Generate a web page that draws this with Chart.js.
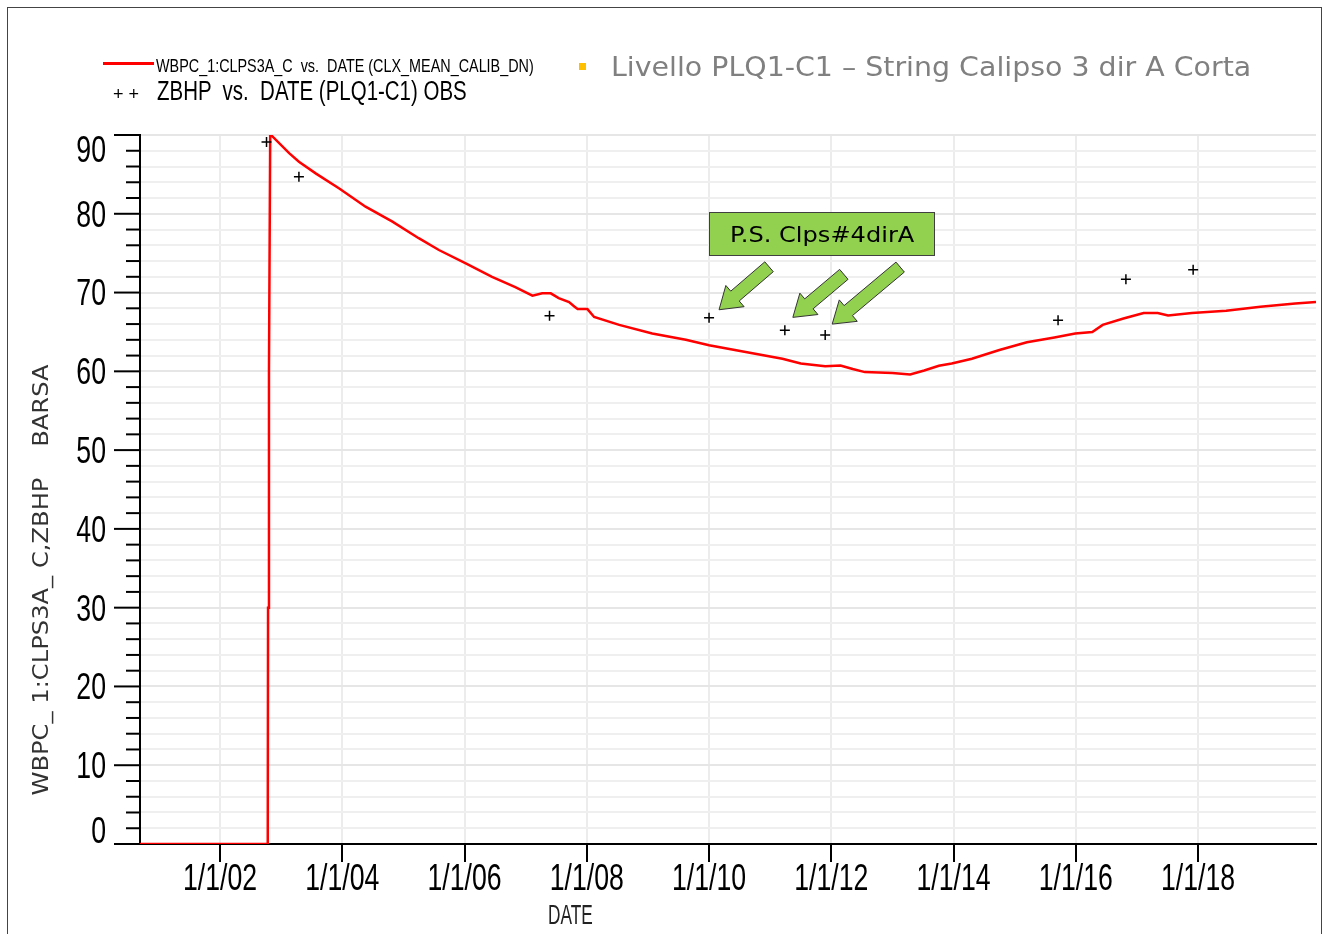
<!DOCTYPE html>
<html>
<head>
<meta charset="utf-8">
<script src="https://cdn.jsdelivr.net/npm/chart.js@4/dist/chart.umd.min.js"></script>
<style>
  body { margin: 0; background: #fff; }
  #wrap { position: relative; width: 1328px; height: 934px; overflow: hidden; }
  #plot { position: absolute; left: 0; top: 0; width: 1328px; height: 934px; }
  .frame { position: absolute; left: 7px; top: 7px; width: 1313px; height: 960px; border: 1px solid #444; }
  .txt { position: absolute; line-height: 1; white-space: pre; color: #000; transform-origin: left center; }
  .arial { font-family: 'Liberation Sans', Arial, sans-serif; }
  #simLine { position: absolute; left: 103px; top: 62px; width: 51px; height: 3px; background: #ff0000; }
  #slideTitle { left: 611px; top: 53px; font-family: 'DejaVu Sans', sans-serif; font-size: 27px; color: #808080; }
  #bullet { position: absolute; left: 579px; top: 63px; width: 7px; height: 7px; background: #ffc000; }
  #psBox { position: absolute; left: 709px; top: 212px; width: 226px; height: 44px; box-sizing: border-box; border: 1px solid #404040; background: #92d050; text-align: center; line-height: 42px; }
  #psText { display: inline-block; font-family: 'DejaVu Sans', sans-serif; font-size: 22px; line-height: 1; vertical-align: middle; white-space: pre; transform-origin: center center; }
  #yTitle { position: absolute; left: 41px; top: 580px; font-family: 'DejaVu Sans', sans-serif; font-size: 21px; line-height: 1; color: #333; white-space: pre; }
</style>
</head>
<body>
<div id="wrap">
  <div id="plot"><canvas id="chart"></canvas></div>
  <div class="frame"></div>
  <div id="simLine"></div>
  <div id="leg1" class="txt arial" style="left:156px; top:56.5px; font-size:18px;">WBPC_1:CLPS3A_C  vs.  DATE (CLX_MEAN_CALIB_DN)</div>
  <div id="legPlus" class="txt arial" style="left:113px; top:85px; font-size:18px;">+ +</div>
  <div id="leg2" class="txt arial" style="left:157px; top:78px; font-size:27px;">ZBHP  vs.  DATE (PLQ1-C1) OBS</div>
  <div id="bullet"></div>
  <div id="slideTitle" class="txt">Livello PLQ1-C1 – String Calipso 3 dir A Corta</div>
  <div id="psBox"><span id="psText">P.S. Clps#4dirA</span></div>
  <div id="xTitle" class="txt arial" style="left:548px; top:901px; font-size:28px; color:#222;">DATE</div>
  <div id="yTitle">WBPC_ 1:CLPS3A_ C,ZBHP    BARSA</div>
</div>
<script>
// simulated bottom hole pressure (red line), decimal years
const simYears = [2000.69, 2002.78, 2002.785, 2002.80, 2002.82, 2003.13, 2003.29, 2003.57, 2003.95,
  2004.38, 2004.82, 2005.25, 2005.58, 2006.02, 2006.45, 2006.83, 2007.11, 2007.27, 2007.41,
  2007.54, 2007.71, 2007.80, 2007.85, 2008.01, 2008.12, 2008.53, 2009.07, 2009.62, 2010.0,
  2010.71, 2011.2, 2011.5, 2011.9, 2012.15, 2012.35, 2012.55, 2013.0, 2013.29, 2013.52,
  2013.76, 2013.97, 2014.3, 2014.75, 2015.2, 2015.65, 2015.99, 2016.27, 2016.44, 2016.78,
  2017.11, 2017.34, 2017.51, 2017.9, 2018.46, 2019.02, 2019.59, 2019.93];
const simBhp = [0, 0, 30, 60, 90.1, 87.7, 86.6, 85.1, 83.2,
  80.9, 79.0, 76.9, 75.4, 73.7, 72.0, 70.7, 69.6, 69.9, 69.9,
  69.3, 68.8, 68.2, 67.9, 67.9, 66.9, 65.9, 64.8, 64.0, 63.3,
  62.3, 61.6, 61.0, 60.65, 60.75, 60.3, 59.9, 59.8, 59.6, 60.1,
  60.7, 61.0, 61.6, 62.7, 63.7, 64.3, 64.8, 65.0, 65.9, 66.7,
  67.4, 67.4, 67.1, 67.4, 67.7, 68.2, 68.6, 68.8];

// observed ZBHP points
const obsYears = [2002.76, 2003.29, 2007.39, 2010.0, 2011.24, 2011.9, 2015.71, 2016.82, 2017.92];
const obsBhp = [89.1, 84.7, 67.05, 66.8, 65.2, 64.6, 66.5, 71.7, 72.9];

const xTickYears = [2002, 2004, 2006, 2008, 2010, 2012, 2014, 2016, 2018];
const xTickLabels = ['1/1/02', '1/1/04', '1/1/06', '1/1/08', '1/1/10', '1/1/12', '1/1/14', '1/1/16', '1/1/18'];

// arrows point at these observations (index into obs arrays)
const arrowTargets = [3, 4, 5];

// squeeze the text boxes to the widths seen in the picture
function fit(id, width, extra) {
    const el = document.getElementById(id);
    const f = width / el.offsetWidth;
    el.style.transform = (extra || '') + ' scaleX(' + f.toFixed(3) + ')';
}
fit('leg1', 378);
fit('leg2', 310);
fit('xTitle', 45);
fit('slideTitle', 640);
fit('psText', 184);
fit('yTitle', 431, 'translate(-50%, -50%) rotate(-90deg)');

// tick marks and narrow tick labels
const axisDecor = {
    id: 'axisDecor',
    afterDraw(chart) {
        const y = chart.scales.y, x = chart.scales.x;
        const c = chart.ctx;
        const size = 36, capH = size * 0.716, sx = 0.74;
        c.save();
        c.strokeStyle = '#000';
        c.lineWidth = 2;
        y.ticks.forEach(t => {
            const py = y.getPixelForValue(t.value);
            const len = t.value % 10 === 0 ? 26 : 14;
            c.beginPath();
            c.moveTo(y.right - len, py);
            c.lineTo(y.right, py);
            c.stroke();
        });
        c.fillStyle = '#000';
        c.font = size + "px 'Liberation Sans', Arial, sans-serif";
        c.textBaseline = 'alphabetic';
        c.textAlign = 'right';
        y.ticks.forEach(t => {
            if (t.value % 10 !== 0) return;
            let cy = y.getPixelForValue(t.value);
            cy = Math.min(Math.max(cy, y.top + capH / 2 + 1), y.bottom - capH / 2 - 1);
            c.save();
            c.translate(y.right - 34, cy + capH / 2);
            c.scale(sx, 1);
            c.fillText(String(t.value), 0, 0);
            c.restore();
        });
        c.textAlign = 'center';
        xTickYears.forEach((v, i) => {
            c.save();
            c.translate(x.getPixelForValue(v), x.top + 46);
            c.scale(sx, 1);
            c.fillText(xTickLabels[i], 0, 0);
            c.restore();
        });
        c.restore();
    }
};

// green block arrows pointing at the P.S. observations
const psArrows = {
    id: 'psArrows',
    afterDatasetsDraw(chart) {
        const c = chart.ctx;
        const xs = chart.scales.x, ys = chart.scales.y;
        const offs = [[10, -8, 50, -43], [8, -13, 51, -43], [7, -11, 68, -57]];
        c.save();
        c.fillStyle = '#92d050';
        c.strokeStyle = '#333';
        c.lineWidth = 1;
        arrowTargets.forEach((idx, k) => {
            const px = xs.getPixelForValue(obsYears[idx]);
            const py = ys.getPixelForValue(obsBhp[idx]);
            const tip = [px + offs[k][0], py + offs[k][1]];
            const tail = [tip[0] + offs[k][2], tip[1] + offs[k][3]];
            const dx = tip[0] - tail[0], dy = tip[1] - tail[1];
            const d = Math.hypot(dx, dy);
            const ux = dx / d, uy = dy / d, nx = -uy, ny = ux;
            const w = 6.5, h = 14, L = 21;
            const bx = tip[0] - ux * L, by = tip[1] - uy * L;
            const pts = [
                [tail[0] + nx * w, tail[1] + ny * w],
                [bx + nx * w, by + ny * w],
                [bx + nx * h, by + ny * h],
                tip,
                [bx - nx * h, by - ny * h],
                [bx - nx * w, by - ny * w],
                [tail[0] - nx * w, tail[1] - ny * w]
            ];
            c.beginPath();
            pts.forEach((p, i) => i ? c.lineTo(p[0], p[1]) : c.moveTo(p[0], p[1]));
            c.closePath();
            c.fill();
            c.stroke();
        });
        c.restore();
    }
};

const ctx = document.getElementById('chart');
new Chart(ctx, {
    type: 'line',
    data: {
        datasets: [
            {
                label: 'WBPC_1:CLPS3A_C vs. DATE (CLX_MEAN_CALIB_DN)',
                data: simYears.map((x, i) => ({ x: x, y: simBhp[i] })),
                borderColor: '#ff0000',
                borderWidth: 2.5,
                pointRadius: 0,
                tension: 0,
                fill: false,
                order: 2
            },
            {
                label: 'ZBHP vs. DATE (PLQ1-C1) OBS',
                data: obsYears.map((x, i) => ({ x: x, y: obsBhp[i] })),
                showLine: false,
                pointStyle: 'cross',
                pointRadius: 5,
                borderColor: '#000',
                borderWidth: 1.5,
                order: 1
            }
        ]
    },
    options: {
        responsive: true,
        maintainAspectRatio: false,
        animation: false,
        layout: { padding: { top: 135, right: 12, left: 0, bottom: 0 } },
        plugins: { legend: { display: false }, tooltip: { enabled: false } },
        scales: {
            x: {
                type: 'linear',
                min: 2000.69,
                max: 2019.93,
                afterFit(s) { s.height = 90; },
                afterBuildTicks(s) { s.ticks = xTickYears.map(v => ({ value: v })); },
                ticks: {
                    display: false,
                    callback: v => xTickLabels[xTickYears.indexOf(v)],
                    autoSkip: false
                },
                grid: { color: '#ececec', lineWidth: 2, tickLength: 18, tickColor: '#000', tickWidth: 2 },
                border: { color: '#000', width: 2 }
            },
            y: {
                min: 0,
                max: 90,
                afterFit(s) { s.width = 140; },
                ticks: {
                    display: false,
                    stepSize: 2,
                    autoSkip: false,
                    callback: v => (v % 10 === 0 ? String(v) : '')
                },
                grid: {
                    drawTicks: false,
                    lineWidth: 2,
                    color: c => (c.tick && c.tick.value % 10 === 0 ? '#e6e6e6' : '#efefef')
                },
                border: { color: '#000', width: 2 }
            }
        }
    },
    plugins: [axisDecor, psArrows]
});
</script>
</body>
</html>
